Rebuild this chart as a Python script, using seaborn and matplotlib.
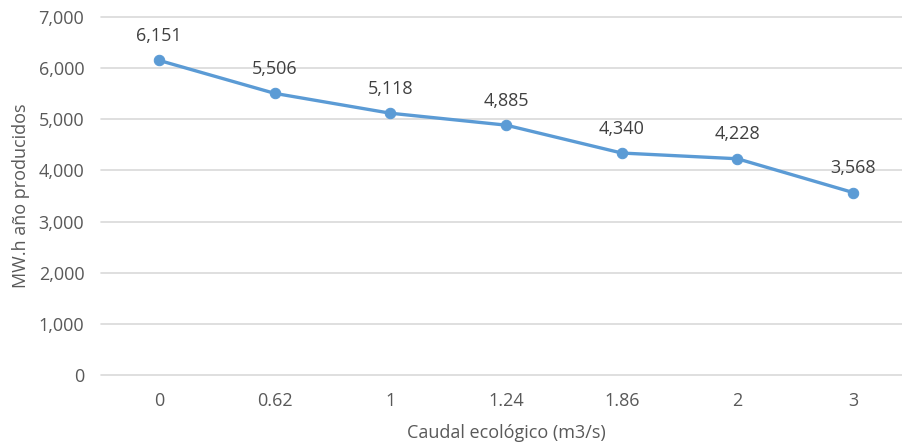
import matplotlib
matplotlib.use("Agg")
import matplotlib.pyplot as plt
import seaborn as sns
import pandas as pd

categories = ["0", "0.62", "1", "1.24", "1.86", "2", "3"]
values = [6151, 5506, 5118, 4885, 4340, 4228, 3568]
yticks = [0, 1000, 2000, 3000, 4000, 5000, 6000, 7000]

sns.set_style("white")
plt.rcParams['font.family'] = ['Open Sans', 'DejaVu Sans']

df = pd.DataFrame({"caudal": categories, "mwh": values})

fig = plt.figure(figsize=(9.02, 4.44), dpi=100)
ax = fig.add_axes([0.112, 0.155, 0.898, 0.807])

color = "#5B9BD5"
fs = 13
sns.lineplot(data=df, x="caudal", y="mwh", sort=False, ax=ax, color=color,
             linewidth=2.4, marker="o", markersize=7.5, markeredgecolor=color,
             zorder=3)

for i, v in enumerate(values):
    ax.annotate(f"{v:,}", (i, v), xytext=(0, 11), textcoords="offset points",
                ha="center", va="bottom", fontsize=fs, color="#404040")

ax.set_ylim(0, 7000)
ax.set_xlim(-0.5, 6.5)
ax.set_yticks(yticks)
ax.set_yticklabels([f"{t:,}" for t in yticks])
ax.yaxis.grid(True, color="#D9D9D9", linewidth=1.2)
for gl in ax.get_ygridlines():
    gl.set_clip_on(False)
ax.xaxis.grid(False)
for s in ax.spines.values():
    s.set_visible(False)
ax.tick_params(axis="both", length=0, labelsize=fs, labelcolor="#595959")
ax.tick_params(axis="y", pad=12)
ax.tick_params(axis="x", pad=12)
ax.set_xlabel("Caudal ecológico (m3/s)", fontsize=fs, color="#595959", labelpad=10)
ax.set_ylabel("MW.h año producidos", fontsize=fs, color="#595959", labelpad=6)

fig.savefig("out.png", dpi=100)
